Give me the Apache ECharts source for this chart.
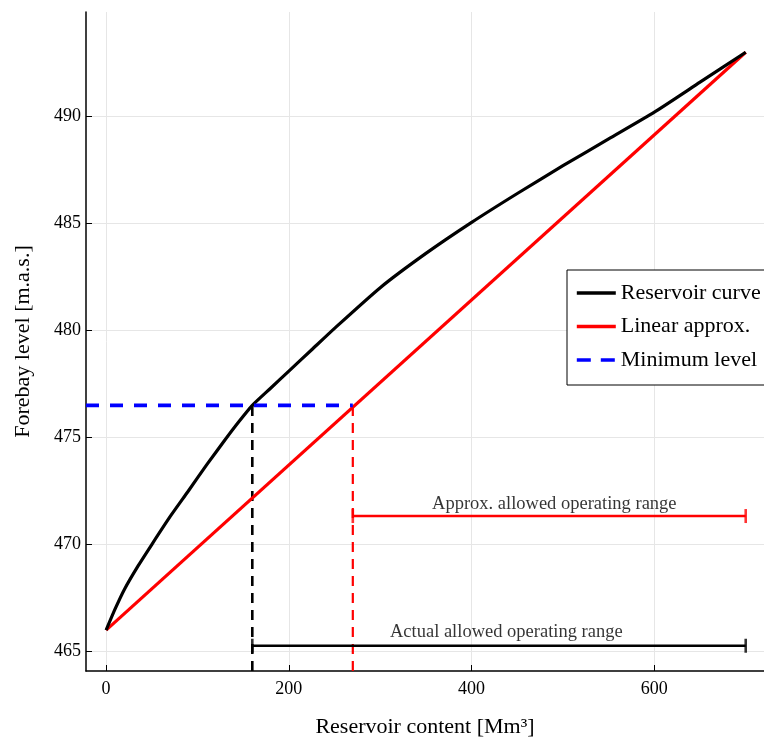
<!DOCTYPE html>
<html>
<head>
<meta charset="utf-8">
<script src="https://cdn.jsdelivr.net/npm/echarts@6/dist/echarts.min.js"></script>
<style>html,body{margin:0;padding:0;background:#fff}#c{width:764px;height:743px}</style>
</head>
<body>
<div id="c"></div>
<script>
// ---- data ----
const storage = [0, 10, 20, 35, 50, 70, 90, 110, 130, 145, 160, 180, 200, 225, 250, 300, 350, 400, 450, 500, 550, 600, 650, 700];
const reservoirLevel = [466.0, 467.0, 467.9, 469.0, 470.0, 471.3, 472.5, 473.72, 474.88, 475.72, 476.5, 477.3, 478.1, 479.1, 480.1, 482.0, 483.6, 485.05, 486.4, 487.7, 488.95, 490.2, 491.6, 493.0];
const linearStorage = [0, 700];
const linearLevel = [466, 493];
const minLevel = 476.5;
const actualStart = 160;
const approxStart = 270;
const rangeEnd = 700;
const approxRangeLevel = 471.33;
const actualRangeLevel = 465.27;
const annotationText = ['Approx. allowed operating range', 'Actual allowed operating range'];
const annotationX = [490.5, 438];
const annotationY = [471.9, 465.9];
const xTicks = [0, 200, 400, 600];
const yTicks = [465, 470, 475, 480, 485, 490];
const xLim = [-22, 720];
const yLim = [464.09, 494.88];

const FONT = 'Liberation Serif';
const chart = echarts.init(document.getElementById('c'), null, {renderer: 'canvas'});

const zip = (xs, ys) => xs.map((x, i) => [x, ys[i]]);
const hiddenSymbol = {color: 'rgba(0,0,0,0)', borderWidth: 0, opacity: 0};

const option = {
  animation: false,
  backgroundColor: '#fff',
  grid: {left: 86, right: 0, top: 12, bottom: 70, containLabel: false},
  xAxis: {
    type: 'value', min: xLim[0], max: xLim[1],
    name: 'Reservoir content [Mm³]', nameLocation: 'middle', nameGap: 45,
    nameTextStyle: {fontFamily: FONT, fontSize: 22, color: '#000'},
    axisLine: {show: true, onZero: false, lineStyle: {color: '#000', width: 1.5}},
    axisTick: {show: true, inside: true, length: 6, customValues: xTicks, lineStyle: {color: '#000', width: 1}},
    axisLabel: {show: true, customValues: xTicks, margin: 9, fontFamily: FONT, fontSize: 18, color: '#000'},
    splitLine: {show: false}
  },
  yAxis: {
    type: 'value', min: yLim[0], max: yLim[1],
    name: 'Forebay level [m.a.s.]', nameLocation: 'middle', nameGap: 52, nameRotate: 90,
    nameTextStyle: {fontFamily: FONT, fontSize: 22, color: '#000'},
    axisLine: {show: true, onZero: false, lineStyle: {color: '#000', width: 1.5}},
    axisTick: {show: true, inside: true, length: 6, customValues: yTicks, lineStyle: {color: '#000', width: 1}},
    axisLabel: {show: true, customValues: yTicks, margin: 5, fontFamily: FONT, fontSize: 18, color: '#000'},
    splitLine: {show: false}
  },
  legend: {
    orient: 'vertical', left: 567, top: 270, z: 20,
    padding: [12, 20, 14, 8],
    itemWidth: 39, itemHeight: 14, itemGap: 11.5,
    borderColor: '#000', borderWidth: 1, backgroundColor: '#fff',
    textStyle: {fontFamily: FONT, fontSize: 22, color: '#000', lineHeight: 22},
    itemStyle: hiddenSymbol,
    data: [
      {name: 'Reservoir curve', itemStyle: hiddenSymbol, lineStyle: {color: '#000', width: 3.6, type: 'solid'}},
      {name: 'Linear approx.', itemStyle: hiddenSymbol, lineStyle: {color: '#ff0000', width: 3.6, type: 'solid'}},
      {name: 'Minimum level', itemStyle: hiddenSymbol, lineStyle: {color: '#0000ff', width: 3.6, type: [14, 10]}}
    ]
  },
  series: [
    {
      type: 'line', name: 'grid', data: [], silent: true, z: 0,
      markLine: {
        silent: true, symbol: 'none', label: {show: false}, animation: false, z: 0,
        lineStyle: {color: '#e6e6e6', width: 1, type: 'solid'},
        data: xTicks.map(v => ({xAxis: v})).concat(yTicks.map(v => ({yAxis: v})))
      }
    },
    {
      type: 'line', name: 'Actual vertical', symbol: 'none', z: 3,
      data: [[actualStart, yLim[0]], [actualStart, minLevel]],
      lineStyle: {color: '#000', width: 2.6, type: [10, 7]}
    },
    {
      type: 'line', name: 'Approx vertical', symbol: 'none', z: 3,
      data: [[approxStart, yLim[0]], [approxStart, minLevel]],
      lineStyle: {color: '#ff0000', width: 2.2, type: [10, 7]}
    },
    {
      type: 'line', name: 'Actual range', symbol: 'none', z: 3,
      data: [[actualStart, actualRangeLevel], [rangeEnd, actualRangeLevel]],
      lineStyle: {color: '#000', width: 2.6}
    },
    {
      type: 'line', name: 'Approx range', symbol: 'none', z: 3,
      data: [[approxStart, approxRangeLevel], [rangeEnd, approxRangeLevel]],
      lineStyle: {color: '#ff0000', width: 2.6}
    },
    {
      type: 'scatter', name: 'Actual caps', symbol: 'rect', symbolSize: [2.6, 14], z: 3,
      itemStyle: {color: '#000'},
      data: [[actualStart, actualRangeLevel], [rangeEnd, actualRangeLevel]]
    },
    {
      type: 'scatter', name: 'Approx caps', symbol: 'rect', symbolSize: [2.6, 14], z: 3,
      itemStyle: {color: '#ff0000'},
      data: [[approxStart, approxRangeLevel], [rangeEnd, approxRangeLevel]]
    },
    {
      type: 'line', name: 'Linear approx.', symbol: 'none', z: 4,
      data: zip(linearStorage, linearLevel),
      lineStyle: {color: '#ff0000', width: 3.2}, itemStyle: {color: '#ff0000'}
    },
    {
      type: 'line', name: 'Reservoir curve', symbol: 'none', z: 5,
      smooth: 0.2,
      data: zip(storage, reservoirLevel),
      lineStyle: {color: '#000', width: 3.2, join: 'round'}, itemStyle: {color: '#000'}
    },
    {
      type: 'line', name: 'Minimum level', symbol: 'none', z: 6,
      data: [[xLim[0], minLevel], [approxStart, minLevel]],
      lineStyle: {color: '#0000ff', width: 3.6, type: [13, 11]}, itemStyle: {color: '#0000ff'}
    },
    {
      type: 'scatter', name: 'annotations', symbolSize: 0, z: 7, silent: true,
      data: annotationText.map((t, i) => ({value: [annotationX[i], annotationY[i]], name: t})),
      label: {
        show: true, position: 'inside', formatter: p => p.name,
        fontFamily: FONT, fontSize: 18.5, color: '#000', textBorderWidth: 0
      }
    }
  ]
};
chart.setOption(option);
</script>
</body>
</html>
